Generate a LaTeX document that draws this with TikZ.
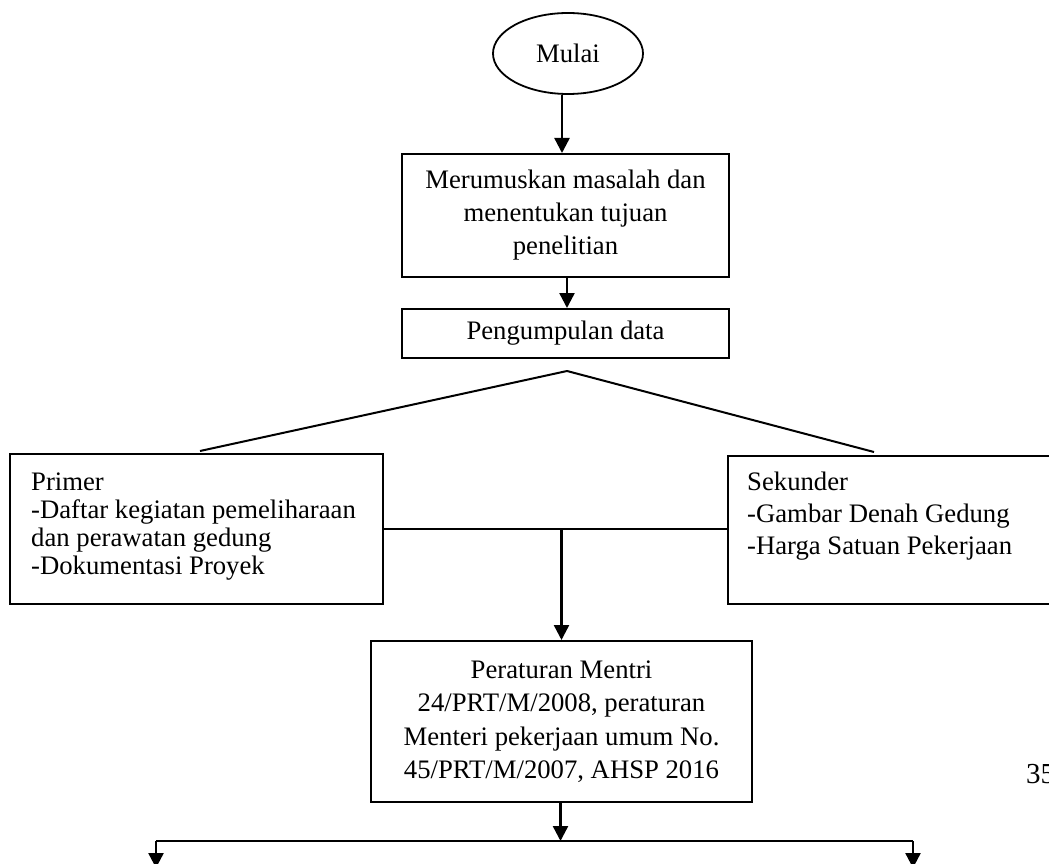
\documentclass[tikz,border=0pt]{standalone}
\usepackage{fontspec}
\setmainfont{Liberation Serif}
\usetikzlibrary{arrows.meta,shapes.geometric,calc}
\tikzset{
  box/.style={draw,line width=2pt,rectangle,inner sep=0pt,font=\fontsize{26.7}{33}\selectfont,align=center},
  sidebox/.style={draw,line width=2pt,rectangle,inner sep=0pt},
  sidetext/.style={anchor=north west,inner sep=0pt,align=left,font=\fontsize{26.7}{28}\selectfont},
  arr/.style={line width=2.4pt,-{Triangle[length=15pt,width=15pt]}},
  ln/.style={line width=2pt}
}
\begin{document}
\begin{tikzpicture}[x=1pt,y=-1pt]
\useasboundingbox (0,0) rectangle (1049,864);
\clip (0,0) rectangle (1049,864);
\node[draw,ellipse,line width=1.8pt,minimum width=150pt,minimum height=81pt,inner sep=0pt,font=\fontsize{26.7}{33}\selectfont] (mulai) at (568,53.5) {Mulai};
\node[box,minimum width=327pt,minimum height=123pt] (rumus) at (565.5,215.5) {Merumuskan masalah dan\\menentukan tujuan\\penelitian};
\node[box,minimum width=327pt,minimum height=49pt] (kumpul) at (565.5,333.5) {Pengumpulan data};
\node[sidebox,minimum width=373pt,minimum height=150pt] (primer) at (196.5,529) {};
\node[sidetext] (primertxt) at ([xshift=22pt,yshift=-20pt]primer.north west) {Primer\\-Daftar kegiatan pemeliharaan\\dan perawatan gedung\\-Dokumentasi Proyek};
\node[sidebox,minimum width=342pt,minimum height=148pt] (sekunder) at (899,530) {};
\node[sidetext,font=\fontsize{26.7}{32}\selectfont] (sekundertxt) at ([xshift=20pt,yshift=-17pt]sekunder.north west) {Sekunder\\-Gambar Denah Gedung\\-Harga Satuan Pekerjaan};
\node[box,minimum width=381pt,minimum height=161pt,font=\fontsize{26.7}{33.5}\selectfont] (atur) at (561.5,721.5) {Peraturan Mentri\\24/PRT/M/2008, peraturan\\Menteri pekerjaan umum No.\\45/PRT/M/2007, AHSP 2016};
\node[anchor=base west,inner sep=0pt,font=\fontsize{29}{33}\selectfont] (hal) at (1026,783) {35};
% connectors
\draw[arr] ([xshift=-6pt]mulai.south) -- ([xshift=-6pt]mulai.south |- rumus.north);
\draw[arr] ([xshift=1.5pt]rumus.south) -- ([xshift=1.5pt]kumpul.north);
\coordinate (fork) at ([xshift=1.5pt,yshift=-12pt]kumpul.south);
\draw[ln] (fork) -- ([xshift=3.5pt,yshift=2pt]primer.north);
\draw[ln] (fork) -- ([xshift=147pt,yshift=3pt]sekunder.north west);
\draw[ln] (primer.east) -- (primer.east -| sekunder.west);
\draw[arr] (atur.north |- primer.east) -- (atur.north);
\coordinate (bl) at (156,841);
\coordinate (br) at (913,841);
\coordinate (el) at (156,868);
\coordinate (er) at (913,868);
\draw[arr] ([xshift=-1pt]atur.south) -- ([xshift=-1pt]atur.south |- bl);
\draw[ln] (bl) -- (br);
\draw[arr] (bl) -- (el);
\draw[arr] (br) -- (er);
\end{tikzpicture}
\end{document}
